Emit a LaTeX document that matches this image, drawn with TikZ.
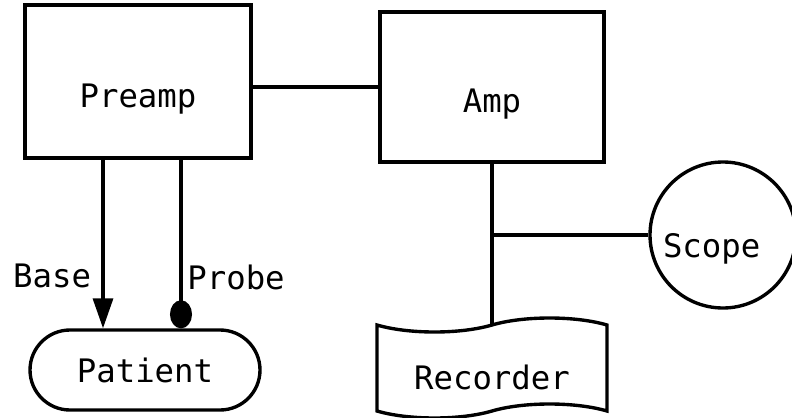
\documentclass[tikz,border=0pt]{standalone}
\usepackage{fontspec}
\setmonofont{DejaVu Sans Mono}
\usepackage{tikz}
\usetikzlibrary{arrows.meta,positioning,shapes.symbols}
\tikzset{
  unitbox/.style={draw,line width=2.4pt,text height=1.275cm,text depth=0pt},
  wire/.style={line width=2.4pt},
}

\begin{document}
\begin{tikzpicture}[font=\ttfamily\fontsize{23}{27}\selectfont]
\useasboundingbox (0,0) rectangle (19.8,-10.45);
\node[unitbox,minimum width=5.65cm,minimum height=3.825cm] (Preamp) at (3.45,-2.04) {Preamp};
\node[unitbox,minimum width=5.6cm,minimum height=3.75cm] (Amp) at (12.3,-2.175) {Amp};
\node[draw,line width=2.4pt,rounded corners=1cm,minimum width=5.75cm,minimum height=2cm] (Patient) at (3.625,-9.25) {Patient};
\node[tape,draw,line width=2.4pt,tape bend height=0.35cm,minimum width=5.75cm,minimum height=2.5cm,
 text height=1.05cm,text depth=0pt] (Recorder) at (12.3,-9.2) {Recorder};
\node[circle,draw,line width=2.4pt,minimum size=3.65cm,inner sep=0pt,text width=3.0cm,align=left,
 text height=1.1cm,text depth=0pt] (Scope) at (18.075,-5.875) {Scope};
% connections
\draw[wire] (Amp.west -| Preamp.east) -- (Amp.west);
\draw[wire,-{Triangle[length=0.75cm,width=0.5cm]}] ([xshift=-0.875cm]Preamp.south) --
 node[pos=0.69,left=4pt] {Base} ([xshift=-1.05cm]Patient.north);
\draw[wire,-{Circle[length=0.7cm,width=0.55cm]}] ([xshift=1.075cm]Preamp.south) --
 node[pos=0.7,right] {Probe} ([xshift=0.9cm]Patient.north);
\draw[wire] (Amp.south) -- (Recorder.north);
\draw[wire] (Scope.west -| Amp.south) -- (Scope.west);
\end{tikzpicture}
\end{document}
